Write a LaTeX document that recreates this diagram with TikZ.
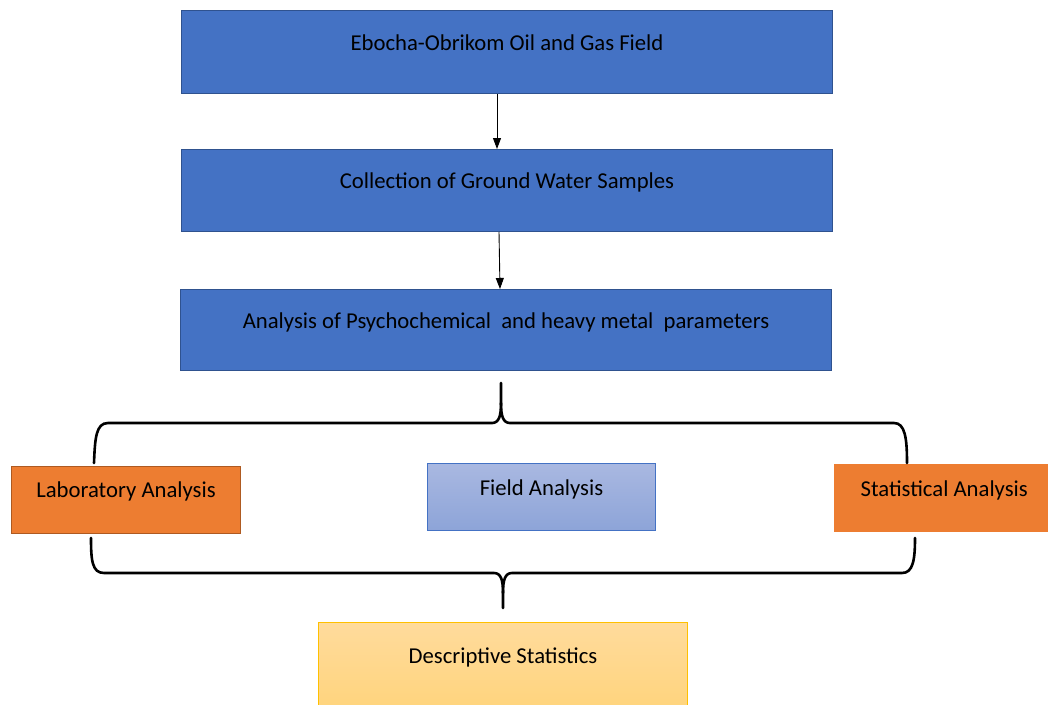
\documentclass[tikz,border=0pt]{standalone}
\usepackage{fontspec}
\setmainfont{Carlito}
\usetikzlibrary{arrows.meta}
\definecolor{bluefill}{HTML}{4472C4}
\definecolor{blueline}{HTML}{2F528F}
\definecolor{orangefill}{HTML}{ED7D31}
\definecolor{orangeline}{HTML}{AE5A21}
\definecolor{fieldtop}{HTML}{A9B8E1}
\definecolor{fieldbot}{HTML}{8DA4D8}
\definecolor{desctop}{HTML}{FFDB9C}
\definecolor{descbot}{HTML}{FFD47C}
\definecolor{descline}{HTML}{FFC000}
\begin{document}
\begin{tikzpicture}[x=1pt,y=-1pt,
  every node/.style={font=\fontsize{22.7}{27}\selectfont, inner sep=0pt, anchor=north west},
  bluebox/.style={fill=bluefill, draw=blueline, line width=1pt, minimum width=651pt},
  labbox/.style={fill=orangefill, draw=orangeline, line width=1pt, minimum width=229pt},
  statbox/.style={fill=orangefill, minimum width=220pt},
  fieldbox/.style={top color=fieldtop, bottom color=fieldbot, draw=bluefill, line width=1pt, minimum width=228pt},
  descbox/.style={top color=desctop, bottom color=descbot, draw=descline, line width=1pt, minimum width=369pt},
  arrow/.style={line width=0.9pt, -{Triangle[length=11pt,width=8pt]}},
  brace/.style={line width=2.6pt, line cap=round}]
\useasboundingbox (0,0) rectangle (1048,704);
% process boxes
\node[bluebox, text height=40pt, text depth=43pt] (field) at (181,10) {Ebocha-Obrikom Oil and Gas Field};
\node[bluebox, text height=39pt, text depth=43pt] (collect) at (181,149) {Collection of Ground Water Samples};
\node[bluebox, text height=39pt, text depth=42pt] (params) at (180,289) {Analysis of Psychochemical \ and heavy metal \ parameters};
\draw[arrow] ([xshift=-10pt]field.south) -- ([xshift=-10pt]collect.north);
\draw[arrow] ([xshift=-8pt]collect.south) -- ([xshift=-6pt]params.north);
% analysis types
\node[labbox, text height=31pt, text depth=36pt] (lab) at (11,466) {Laboratory Analysis};
\node[fieldbox, text height=32pt, text depth=35pt] (fielda) at (427,463) {Field Analysis};
\node[statbox, text height=32pt, text depth=36pt] (stat) at (834,464) {Statistical Analysis};
\node[descbox, text height=41pt, text depth=48pt] (desc) at (318,622) {Descriptive Statistics};
% braces
\coordinate (toptip) at (501,383);
\coordinate (topleft) at (94,463);
\coordinate (topright) at (907,463);
\coordinate (bottip) at (503,608);
\coordinate (botleft) at (91,538);
\coordinate (botright) at (915,538);
\draw[brace] (topleft) .. controls (95,438) and (96,423) .. (108,423) -- (492,423)
  .. controls (499,423) and (501,416) .. (501,403) -- (toptip);
\draw[brace] (501,403) .. controls (501,416) and (503,423) .. (510,423) -- (894,423)
  .. controls (905,423) and (907,438) .. (topright);
\draw[brace] (botleft) .. controls (91,560) and (92,573) .. (104,573) -- (494,573)
  .. controls (501,573) and (503,580) .. (503,593) -- (bottip);
\draw[brace] (503,593) .. controls (503,580) and (505,573) .. (512,573) -- (902,573)
  .. controls (913,573) and (915,560) .. (botright);
\end{tikzpicture}
\end{document}
